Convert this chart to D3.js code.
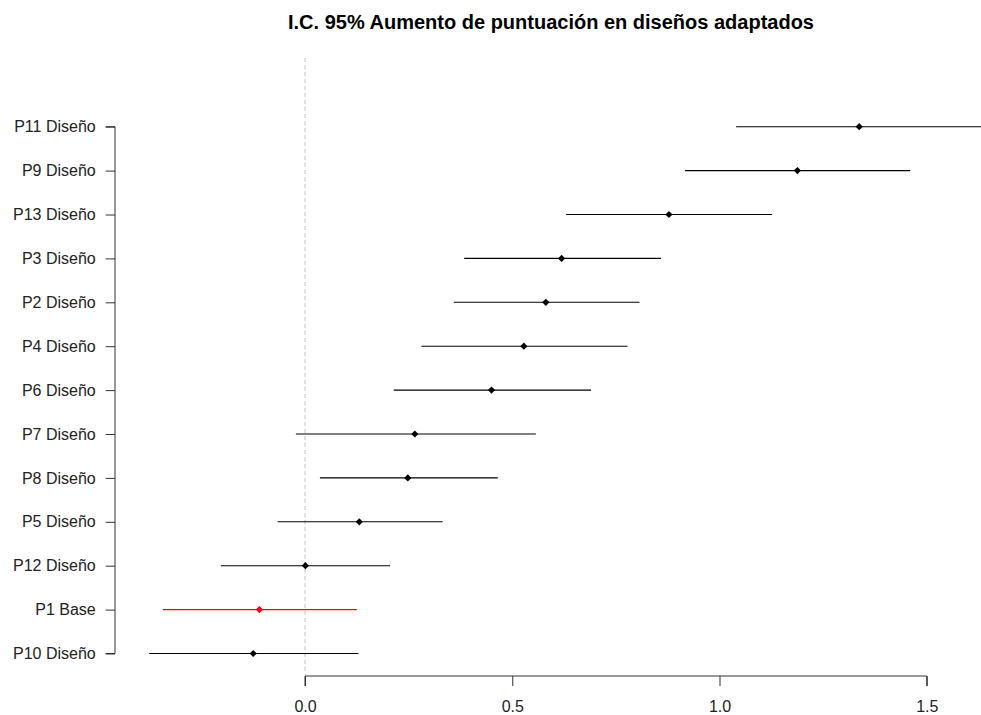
<!DOCTYPE html>
<html>
<head>
<meta charset="utf-8">
<script src="https://cdn.jsdelivr.net/npm/d3@7"></script>
<style>
  html, body { margin: 0; padding: 0; background: #fff; }
  svg { display: block; }
  text { font-family: "Liberation Sans", Arial, sans-serif; }
</style>
</head>
<body>
<svg id="chart" width="981" height="715"></svg>
<script>
// Data (top to bottom)
const labels = ["P11 Diseño","P9 Diseño","P13 Diseño","P3 Diseño","P2 Diseño","P4 Diseño","P6 Diseño","P7 Diseño","P8 Diseño","P5 Diseño","P12 Diseño","P1 Base","P10 Diseño"];
const estimates = [1.337, 1.188, 0.878, 0.619, 0.581, 0.528, 0.450, 0.265, 0.248, 0.131, 0.001, -0.110, -0.125];
const lower     = [1.040, 0.917, 0.630, 0.384, 0.359, 0.281, 0.214, -0.022, 0.036, -0.066, -0.203, -0.343, -0.376];
const upper     = [1.640, 1.460, 1.127, 0.859, 0.807, 0.778, 0.690, 0.557, 0.465, 0.332, 0.205, 0.125, 0.129];
const highlight = ["P1 Base"];
const xTicks = [0, 0.5, 1, 1.5];
const titleText = "I.C. 95% Aumento de puntuación en diseños adaptados";

const svg = d3.select("#chart");
const x = d3.scaleLinear().domain([0, 1.5]).range([305, 926.75]);
const y = d3.scalePoint().domain(labels).range([126.7, 653.5]);

// reference dashed line at 0
svg.append("line")
  .attr("x1", x(0)).attr("x2", x(0))
  .attr("y1", 58).attr("y2", 675)
  .attr("stroke", "#cccccc").attr("stroke-width", 1.2)
  .attr("stroke-dasharray", "4,3");

// intervals
const rows = labels.map((l, i) => ({label: l, est: estimates[i], lo: lower[i], hi: upper[i]}));
const col = d => highlight.includes(d.label) ? "#ff0000" : "#000000";

svg.append("g").selectAll("line").data(rows).join("line")
  .attr("x1", d => x(d.lo)).attr("x2", d => x(d.hi))
  .attr("y1", d => y(d.label)).attr("y2", d => y(d.label))
  .attr("stroke", col).attr("stroke-width", 1.1);

svg.append("g").selectAll("path").data(rows).join("path")
  .attr("d", d3.symbol().type(d3.symbolSquare).size(26))
  .attr("transform", d => `translate(${x(d.est)},${y(d.label)}) rotate(45)`)
  .attr("fill", col);

// x axis
const xAxis = d3.axisBottom(x).tickValues(xTicks).tickFormat(d3.format(".1f")).tickSize(10).tickPadding(15);
const gx = svg.append("g").attr("transform", "translate(0,676)").call(xAxis);
gx.select(".domain").attr("stroke", "#333").attr("d", `M${x(0)},10V0H${x(1.5)}V10`);
gx.selectAll(".tick line").attr("stroke", "#333");
gx.selectAll(".tick text").attr("font-size", 16).attr("fill", "#222").attr("font-family", "Liberation Sans, Arial, sans-serif");

// y axis
const yAxis = d3.axisLeft(y).tickSize(9.3).tickPadding(10);
const gy = svg.append("g").attr("transform", "translate(115,0)").call(yAxis);
gy.select(".domain").attr("stroke", "#333").attr("d", `M-9.3,${y.range()[0]}H0V${y.range()[1]}H-9.3`);
gy.selectAll(".tick line").attr("stroke", "#333");
gy.selectAll(".tick text").attr("font-size", 16).attr("fill", "#222").attr("font-family", "Liberation Sans, Arial, sans-serif");

// title
svg.append("text")
  .attr("x", 551).attr("y", 29)
  .attr("text-anchor", "middle")
  .attr("font-size", 20).attr("font-weight", "bold").attr("fill", "#000")
  .text(titleText);
</script>
</body>
</html>
